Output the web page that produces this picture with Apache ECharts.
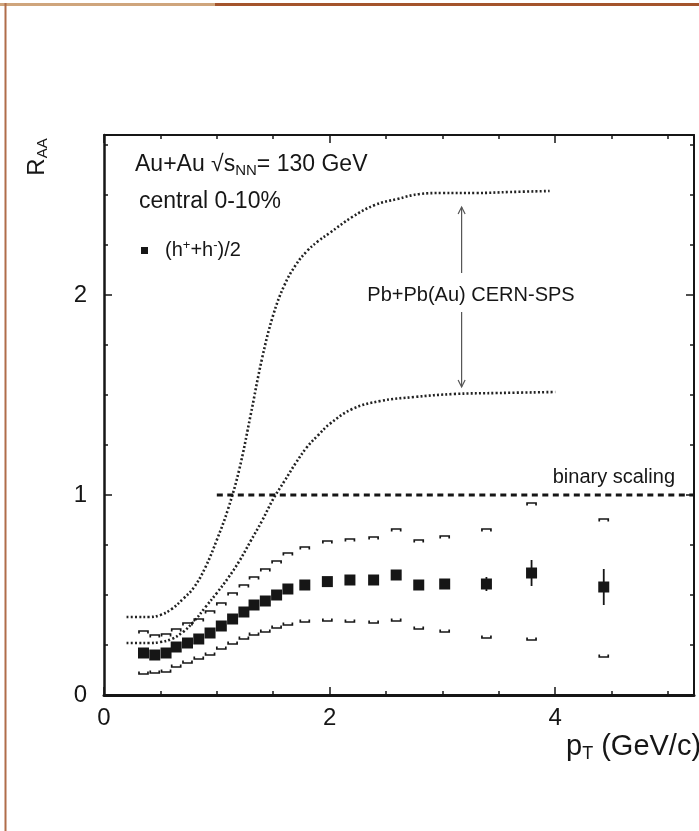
<!DOCTYPE html>
<html>
<head>
<meta charset="utf-8">
<script src="https://cdn.jsdelivr.net/npm/echarts@6/dist/echarts.min.js"></script>
<style>
  html, body { margin: 0; padding: 0; background: #fff; }
  #chart { width: 699px; height: 831px; }
</style>
</head>
<body>
<div id="chart"></div>
<script>
// (h+ + h-)/2 points, Au+Au 130 GeV central 0-10%
var ptValues  = [0.35, 0.45, 0.55, 0.64, 0.74, 0.84, 0.94, 1.04, 1.14, 1.24, 1.33, 1.43, 1.53, 1.63, 1.78, 1.98, 2.18, 2.39, 2.59, 2.79, 3.02, 3.39, 3.79, 4.43];
var raaValues = [0.21, 0.20, 0.21, 0.24, 0.26, 0.28, 0.31, 0.345, 0.38, 0.415, 0.45, 0.47, 0.50, 0.53, 0.55, 0.567, 0.575, 0.575, 0.60, 0.55, 0.555, 0.555, 0.61, 0.54];
var statErr   = [0.01, 0.01, 0.01, 0.01, 0.01, 0.01, 0.01, 0.01, 0.01, 0.01, 0.01, 0.01, 0.01, 0.01, 0.01, 0.01, 0.01, 0.01, 0.015, 0.025, 0.015, 0.035, 0.065, 0.09];
var sysHigh   = [0.32, 0.30, 0.305, 0.33, 0.36, 0.38, 0.42, 0.46, 0.51, 0.55, 0.59, 0.63, 0.67, 0.71, 0.74, 0.77, 0.78, 0.79, 0.83, 0.775, 0.795, 0.83, 0.96, 0.88];
var sysLow    = [0.105, 0.11, 0.115, 0.14, 0.16, 0.18, 0.20, 0.23, 0.255, 0.28, 0.30, 0.315, 0.335, 0.35, 0.365, 0.37, 0.365, 0.36, 0.37, 0.33, 0.315, 0.285, 0.275, 0.19];

// Pb+Pb(Au) CERN-SPS band edges
var spsHighPt  = [0.2, 0.3, 0.4, 0.5, 0.6, 0.7, 0.8, 0.9, 1.0, 1.1, 1.2, 1.3, 1.4, 1.5, 1.6, 1.7, 1.8, 1.9, 2.0, 2.2, 2.4, 2.6, 2.8, 3.0, 3.3, 3.6, 3.95];
var spsHighRaa = [0.39, 0.39, 0.39, 0.40, 0.43, 0.48, 0.54, 0.64, 0.775, 0.93, 1.13, 1.40, 1.68, 1.90, 2.05, 2.15, 2.22, 2.27, 2.31, 2.39, 2.45, 2.48, 2.505, 2.51, 2.51, 2.515, 2.52];
var spsLowPt   = [0.2, 0.3, 0.4, 0.5, 0.6, 0.7, 0.8, 0.9, 1.0, 1.1, 1.2, 1.3, 1.4, 1.5, 1.6, 1.7, 1.8, 1.9, 2.0, 2.2, 2.45, 2.75, 3.1, 3.5, 4.0];
var spsLowRaa  = [0.26, 0.26, 0.26, 0.265, 0.28, 0.315, 0.37, 0.44, 0.51, 0.585, 0.67, 0.77, 0.87, 0.98, 1.07, 1.16, 1.24, 1.30, 1.355, 1.43, 1.47, 1.49, 1.505, 1.51, 1.515];

// binary scaling line and the band arrow
var binaryPt  = [1.0, 5.23];
var binaryRaa = [1, 1];
var arrowPt   = 3.17;
var arrowUp   = [2.11, 2.44];
var arrowDown = [1.915, 1.54];

var xLabels = [0, 2, 4];
var yLabels = [0, 1, 2];

var FONT = '"Liberation Sans", Arial, Helvetica, sans-serif';
var INK = '#161616';

function zip(a, b) { return a.map(function (v, i) { return [v, b[i]]; }); }

var chart = echarts.init(document.getElementById('chart'));

function axisX(pos, labels) {
  return {
    type: 'value', position: pos, min: 0, max: 5.23, interval: 2,
    axisLine: { show: true, onZero: false, lineStyle: { color: INK, width: pos === 'bottom' ? 3 : 2 } },
    axisTick: { show: true, inside: true, length: 8, lineStyle: { color: INK, width: 1.5 } },
    minorTick: { show: true, splitNumber: 4, length: 4, lineStyle: { color: INK, width: 1.5 } },
    splitLine: { show: false },
    axisLabel: {
      show: labels, margin: 11, color: INK, fontFamily: FONT, fontSize: 24,
      formatter: function (v) { return xLabels.indexOf(v) >= 0 ? String(v) : ''; }
    }
  };
}
function axisY(pos, labels) {
  return {
    type: 'value', position: pos, min: 0, max: 2.8, interval: 1,
    axisLine: { show: true, onZero: false, lineStyle: { color: INK, width: pos === 'left' ? 2.5 : 2 } },
    axisTick: { show: true, inside: true, length: 8, lineStyle: { color: INK, width: 1.5 } },
    minorTick: { show: true, splitNumber: 4, length: 4, lineStyle: { color: INK, width: 1.5 } },
    splitLine: { show: false },
    axisLabel: {
      show: labels, margin: 17, color: INK, fontFamily: FONT, fontSize: 24,
      formatter: function (v) { return yLabels.indexOf(v) >= 0 ? String(v) : ''; }
    }
  };
}

function renderSys(params, api) {
  var x = api.value(0);
  var hi = api.coord([x, api.value(1)]);
  var lo = api.coord([x, api.value(2)]);
  var hw = 4.5, tip = 2.5;
  var st = { stroke: INK, lineWidth: 1.7, fill: null };
  return { type: 'group', children: [
    { type: 'polyline', shape: { points: [[hi[0] - hw, hi[1] + tip], [hi[0] - hw, hi[1]], [hi[0] + hw, hi[1]], [hi[0] + hw, hi[1] + tip]] }, style: st },
    { type: 'polyline', shape: { points: [[lo[0] - hw, lo[1] - tip], [lo[0] - hw, lo[1]], [lo[0] + hw, lo[1]], [lo[0] + hw, lo[1] - tip]] }, style: st }
  ]};
}

function renderErr(params, api) {
  var x = api.value(0), y = api.value(1), e = api.value(2);
  var a = api.coord([x, y + e]), b = api.coord([x, y - e]);
  return { type: 'line', shape: { x1: a[0], y1: a[1], x2: b[0], y2: b[1] }, style: { stroke: INK, lineWidth: 1.8 } };
}

function renderArrow(params, api) {
  var x = api.value(0);
  var u0 = api.coord([x, api.value(1)]), u1 = api.coord([x, api.value(2)]);
  var d0 = api.coord([x, api.value(3)]), d1 = api.coord([x, api.value(4)]);
  var st = { stroke: '#555', lineWidth: 1.2, fill: null };
  return { type: 'group', children: [
    { type: 'line', shape: { x1: u0[0], y1: u0[1], x2: u1[0], y2: u1[1] }, style: st },
    { type: 'polyline', shape: { points: [[u1[0] - 3.5, u1[1] + 7], [u1[0], u1[1]], [u1[0] + 3.5, u1[1] + 7]] }, style: st },
    { type: 'line', shape: { x1: d0[0], y1: d0[1], x2: d1[0], y2: d1[1] }, style: st },
    { type: 'polyline', shape: { points: [[d1[0] - 3.5, d1[1] - 7], [d1[0], d1[1]], [d1[0] + 3.5, d1[1] - 7]] }, style: st }
  ]};
}

var subStyle = { fontSize: 15, fontFamily: FONT, color: INK, padding: [12, 0, 0, 0] };
var supStyle = { fontSize: 13, fontFamily: FONT, color: INK, padding: [0, 0, 10, 0] };

chart.setOption({
  animation: false,
  backgroundColor: '#fff',
  grid: { left: 104, top: 135, right: 5, bottom: 136, containLabel: false },
  xAxis: [axisX('bottom', true), axisX('top', false)],
  yAxis: [axisY('left', true), axisY('right', false)],
  legend: {
    left: 136, top: 234, orient: 'vertical',
    itemWidth: 7, itemHeight: 7,
    data: [{ name: 'hpm', icon: 'rect' }],
    formatter: function () { return '(h{sup|+}+h{sup|-})/2'; },
    textStyle: { color: INK, fontFamily: FONT, fontSize: 20, padding: [0, 0, 0, 12], rich: { sup: supStyle } }
  },
  series: [
    { type: 'line', data: zip(spsHighPt, spsHighRaa), smooth: 0.4, showSymbol: false, silent: true,
      lineStyle: { color: '#222', width: 2.6, type: [2, 2.2] }, z: 2 },
    { type: 'line', data: zip(spsLowPt, spsLowRaa), smooth: 0.4, showSymbol: false, silent: true,
      lineStyle: { color: '#222', width: 2.6, type: [2, 2.2] }, z: 2 },
    { type: 'line', data: zip(binaryPt, binaryRaa), showSymbol: false, silent: true,
      lineStyle: { color: INK, width: 3, type: [6, 4.5] }, z: 2 },
    { type: 'custom', renderItem: renderArrow, silent: true,
      data: [[arrowPt, arrowUp[0], arrowUp[1], arrowDown[0], arrowDown[1]]], z: 3 },
    { type: 'custom', renderItem: renderSys, silent: true,
      data: ptValues.map(function (p, i) { return [p, sysHigh[i], sysLow[i]]; }), z: 3 },
    { type: 'custom', renderItem: renderErr, silent: true,
      data: ptValues.map(function (p, i) { return [p, raaValues[i], statErr[i]]; }), z: 4 },
    { name: 'hpm', type: 'scatter', data: zip(ptValues, raaValues), symbol: 'rect', symbolSize: 11,
      itemStyle: { color: INK, opacity: 1 }, z: 5 }
  ],
  graphic: [
    { type: 'line', shape: { x1: 0, y1: 4.5, x2: 215, y2: 4.5 }, style: { stroke: '#cfa57c', lineWidth: 3 } },
    { type: 'line', shape: { x1: 215, y1: 4.5, x2: 699, y2: 4.5 }, style: { stroke: '#a4542c', lineWidth: 3 } },
    { type: 'line', shape: { x1: 5.5, y1: 3, x2: 5.5, y2: 831 }, style: { stroke: '#b06d4a', lineWidth: 2 } },
    { type: 'text', x: 135, y: 165, style: { text: 'Au+Au \u221As{sub|NN}= 130 GeV', fontFamily: FONT, fontSize: 23, fill: INK,
      verticalAlign: 'middle', rich: { sub: subStyle } } },
    { type: 'text', x: 139, y: 202, style: { text: 'central 0-10%', fontFamily: FONT, fontSize: 23, fill: INK, verticalAlign: 'middle' } },
    { type: 'text', x: 471, y: 295, style: { text: 'Pb+Pb(Au) CERN-SPS', fontFamily: FONT, fontSize: 20, fill: INK, align: 'center', verticalAlign: 'middle' } },
    { type: 'text', x: 675, y: 477, style: { text: 'binary scaling', fontFamily: FONT, fontSize: 20, fill: INK, align: 'right', verticalAlign: 'middle' } },
    { type: 'text', x: 566, y: 747, style: { text: 'p{sub|T} (GeV/c)', fontFamily: FONT, fontSize: 29, fill: INK, verticalAlign: 'middle',
      rich: { sub: { fontSize: 18, fontFamily: FONT, color: INK, padding: [14, 0, 0, 0] } } } },
    { type: 'text', x: 37, y: 157, rotation: Math.PI / 2, style: { text: 'R{sub|AA}', fontFamily: FONT, fontSize: 24, fill: INK,
      align: 'center', verticalAlign: 'middle', rich: { sub: subStyle } } }
  ]
});

window.addEventListener('resize', function () { chart.resize(); });
</script>
</body>
</html>
